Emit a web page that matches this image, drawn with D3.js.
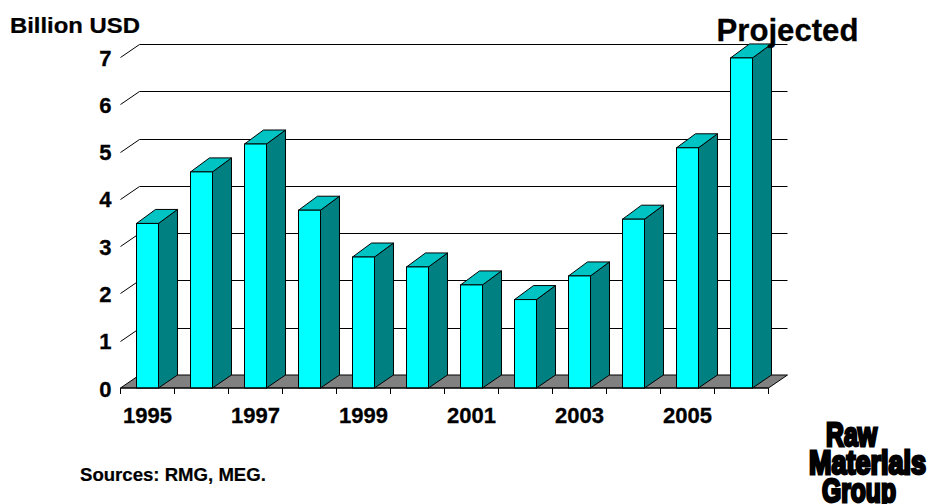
<!DOCTYPE html>
<html><head><meta charset="utf-8">
<script src="https://cdn.jsdelivr.net/npm/d3@7/dist/d3.min.js"></script>
<style>html,body{margin:0;background:#fff}svg{display:block}text{font-family:"Liberation Sans",Arial,sans-serif;font-weight:bold;fill:#000}</style>
</head><body><svg id="c" width="930" height="504"></svg>
<script>
const years=[1995,1996,1997,1998,1999,2000,2001,2002,2003,2004,2005,2006];
const values=[3.48,4.57,5.16,3.76,2.77,2.56,2.18,1.87,2.37,3.57,5.08,6.98];
const yTicks=[0,1,2,3,4,5,6,7];
const xLabels=[1995,1997,1999,2001,2003,2005];
const unitLabel="Billion USD", projLabel="Projected", sourceLabel="Sources: RMG, MEG.";
const logoLines=["Raw","Materials","Group"];

const svg=d3.select("#c");
const left=120.5,right=768.5,floor=388,top7=57;
const dx=19,dy=13,barDy=14;
const x=d3.scaleBand().domain(years).range([left,right]).paddingInner(0.5926).paddingOuter(0.2963);
const y=d3.scaleLinear().domain([0,7]).range([floor,top7]);
const poly=p=>p.map(a=>a.join(",")).join(" ");
const crisp=v=>Math.round(v)+.5;

svg.append("polygon").attr("points",poly([[left,floor],[left+dx,floor-dy],[right+dx,floor-dy],[right,floor]]))
  .attr("fill","#808080").attr("stroke","#000").attr("stroke-width",1);

svg.append("g").selectAll("polyline").data(yTicks.filter(d=>d>0)).join("polyline")
  .attr("fill","none").attr("stroke","#000").attr("stroke-width",1)
  .attr("points",d=>poly([[left,crisp(y(d))],[left+dx,crisp(y(d))-dy],[right+dx,crisp(y(d))-dy]]));

const bars=svg.append("g").selectAll("g").data(years).join("g");
const bw=x.bandwidth();
bars.each(function(yr,i){
  const g=d3.select(this),x0=x(yr),x1=x0+bw,t=y(values[i]);
  g.append("polygon").attr("points",poly([[x1,t],[x1+dx,t-barDy],[x1+dx,floor-dy],[x1,floor]])).attr("fill","#008080").attr("stroke","#000");
  g.append("polygon").attr("points",poly([[x0,t],[x0+dx,t-barDy],[x1+dx,t-barDy],[x1,t]])).attr("fill","#00c4c4").attr("stroke","#000");
  g.append("rect").attr("x",x0).attr("y",t).attr("width",bw).attr("height",floor-t).attr("fill","#00ffff").attr("stroke","#000");
});

const yAxis=d3.axisLeft(y).tickValues(yTicks).tickSize(0).tickPadding(9).tickFormat(d3.format("d"));
const ya=svg.append("g").attr("transform",`translate(${left},1)`).call(yAxis);
ya.select(".domain").remove();
ya.selectAll("text").style("font-size","22px").style("font-family",'"Liberation Sans"').style("stroke","#000").style("stroke-width",".3");

const xEdge=d3.scaleLinear().domain([0,years.length]).range([left,right]);
svg.append("g").selectAll("line").data(d3.range(years.length+1)).join("line")
  .attr("x1",d=>xEdge(d)).attr("x2",d=>xEdge(d)).attr("y1",floor).attr("y2",floor+6).attr("stroke","#000");
svg.append("line").attr("x1",left).attr("x2",right).attr("y1",floor).attr("y2",floor).attr("stroke","#000");
svg.append("g").selectAll("text").data(xLabels).join("text")
  .attr("x",d=>x(d)+bw/2).attr("y",423).attr("text-anchor","middle").attr("font-size",22).attr("stroke","#000").attr("stroke-width",.3).text(d=>d);

function fit(sel,px,py,w){
  const n=sel.node().getComputedTextLength();
  sel.attr("transform",`translate(${px},${py}) scale(${w/n},1)`);
}
fit(svg.append("text").attr("font-size",22).attr("stroke","#000").attr("stroke-width",.25).text(unitLabel),10,33,130);
fit(svg.append("text").attr("font-size",31.5).attr("stroke","#000").attr("stroke-width",.3).text(projLabel),716.5,41,142);
fit(svg.append("text").attr("font-size",17.5).attr("stroke","#000").attr("stroke-width",.2).text(sourceLabel),80,481,186);

const logoX=[825,808,821],logoY=[447,475,503],logoW=[53,119,76];
logoLines.forEach((t,i)=>{
  fit(svg.append("text").attr("font-size",33).attr("stroke","#000").attr("stroke-width",2.8).text(t),logoX[i]+1,logoY[i]-1,logoW[i]-2);
});
</script></body></html>
